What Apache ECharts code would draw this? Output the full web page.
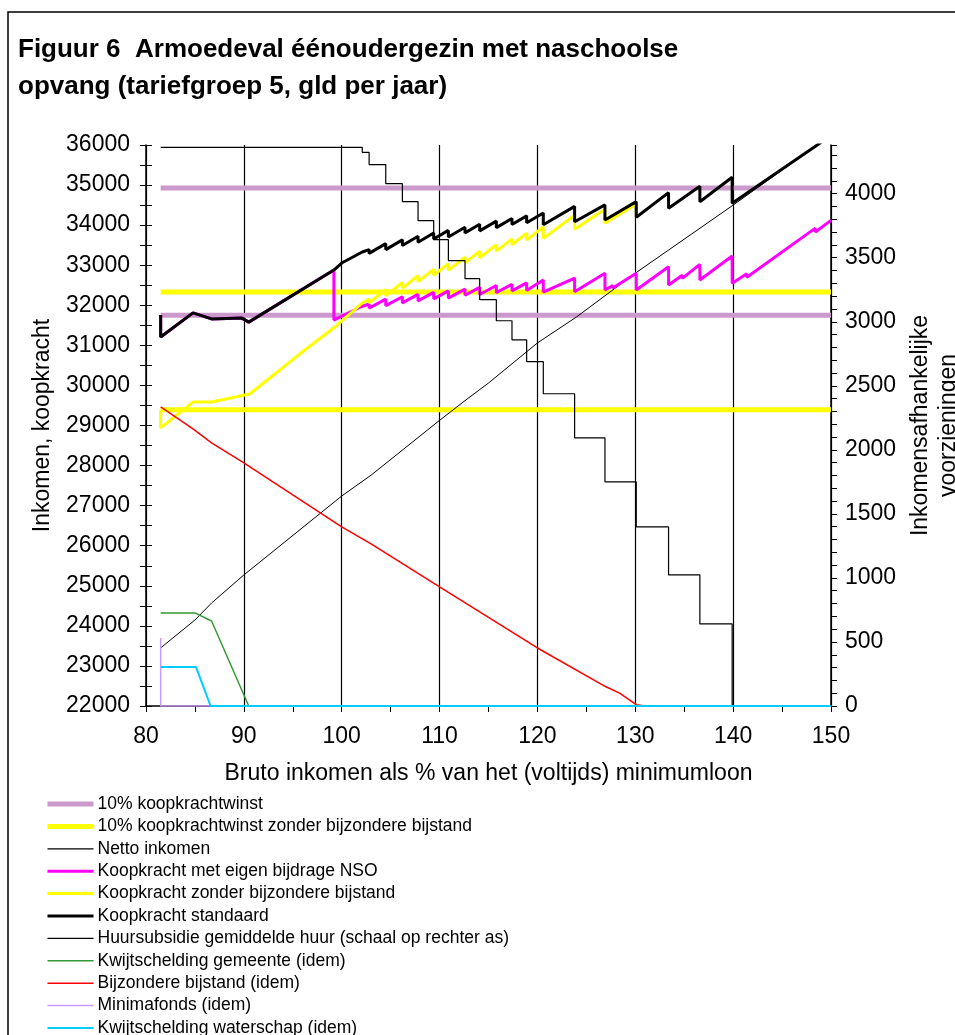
<!DOCTYPE html>
<html>
<head>
<meta charset="utf-8">
<script src="https://cdn.jsdelivr.net/npm/echarts@6/dist/echarts.min.js"></script>
<style>
  html, body { margin: 0; padding: 0; background: #fff; }
  #chart { width: 955px; height: 1035px; }
</style>
</head>
<body>
<div id="chart"></div>
<script>
// values: x = bruto inkomen (% minimumloon)
const winst10 = [[81.5, 34925], [150, 34925], [150, '-'], [81.5, 31750], [150, 31750]]
const winst10Zonder = [[81.5, 32330], [150, 32330], [150, '-'], [81.5, 29390], [150, 29390]]

const netto = [[81.5, 23450], [85, 24145], [86.7, 24570], [90, 25270], [100, 27240], [103, 27760],
  [109.8, 29090], [112.7, 29640], [115, 30060], [120, 31060], [124, 31710], [130, 32800],
  [140, 34500], [148.6, 36000], [150, 36245]]

const koopNSO = [[81.5, 31760], [81.5, 31210], [84.8, 31810], [86.7, 31660], [89.8, 31680], [90.5, 31580],
  [99.2, 32880], [99.2, 31632], [101.9, 31957], [102.1, 31983], [102.1, 31940], [102.8, 32032], [102.8, 31930],
  [104.5, 32154], [104.5, 31990], [106.2, 32214], [106.2, 32060], [107.8, 32271], [107.8, 32110],
  [109.4, 32321], [109.4, 32160], [110.9, 32358], [110.9, 32180], [112.6, 32404], [112.6, 32250],
  [114.1, 32448], [114.1, 32270], [115.8, 32494], [115.8, 32315], [117.4, 32526], [117.4, 32360],
  [118.9, 32558], [118.9, 32370], [120.6, 32630], [120.6, 32330], [123.8, 32680], [123.8, 32340],
  [126.9, 32800], [126.9, 32380], [127.7, 32490], [127.7, 32430], [130.1, 32800], [130.1, 32380],
  [133.4, 32963], [133.4, 32506], [134.8, 32750], [134.8, 32670], [136.6, 33020], [136.6, 32630],
  [139.9, 33229], [139.9, 32547], [141.4, 32787], [141.4, 32700], [148.4, 33925], [148.4, 33830], [150, 34118]]

const koopZonder = [[81.5, 29390], [81.5, 28940], [84.8, 29585], [86.7, 29585], [90.6, 29785], [95.7, 30783],
  [99.3, 31457], [102.1, 32060], [102.1, 32020], [102.8, 32155], [102.8, 32060], [104.5, 32388], [104.5, 32240],
  [106.2, 32568], [106.2, 32430], [107.8, 32739], [107.8, 32590], [109.4, 32899], [109.4, 32750],
  [110.9, 33040], [110.9, 32875], [112.6, 33203], [112.6, 33060], [114.1, 33350], [114.1, 33185],
  [115.8, 33513], [115.8, 33350], [117.4, 33659], [117.4, 33510], [118.9, 33800], [118.9, 33630],
  [120.6, 33958], [120.6, 33670], [123.8, 34246], [123.8, 33900], [126.9, 34396], [126.9, 34050],
  [130.1, 34530], [130.1, 34197]]

const koopStandaard = [[81.5, 31760], [81.5, 31210], [84.8, 31810], [86.7, 31660], [89.8, 31680], [90.5, 31580],
  [99.2, 32880], [100, 33055], [102.1, 33330], [102.1, 33290], [102.8, 33390], [102.8, 33295],
  [104.5, 33538], [104.5, 33390], [106.2, 33633], [106.2, 33493], [107.8, 33722], [107.8, 33573],
  [109.4, 33802], [109.4, 33654], [110.9, 33869], [110.9, 33705], [112.6, 33948], [112.6, 33807],
  [114.1, 34022], [114.1, 33858], [115.8, 34101], [115.8, 33937], [117.4, 34166], [117.4, 34017],
  [118.9, 34232], [118.9, 34061], [120.6, 34304], [120.6, 34010], [123.8, 34468], [123.8, 34085],
  [126.9, 34505], [126.9, 34128], [130.1, 34586], [130.1, 34197], [133.4, 34811], [133.4, 34423],
  [136.6, 34970], [136.6, 34585], [139.9, 35195], [139.9, 34547], [148.6, 36000], [150, 36245]]

// right axis (inkomensafhankelijke voorzieningen)
const huursubsidie = [[81.5, 4362], [102.1, 4323], [102.8, 4227], [104.5, 4078], [106.2, 3938], [107.8, 3789],
  [109.4, 3641], [110.9, 3477], [112.6, 3336], [114.1, 3172], [115.8, 3008], [117.4, 2859], [118.9, 2688],
  [120.6, 2438], [123.8, 2094], [126.9, 1750], [130.1, 1398], [133.4, 1023], [136.6, 641], [139.9, 0], [150, 0]]
const kwijtGemeente = [[81.5, 727], [85, 727], [86.7, 664], [90.5, 0], [150, 0]]
const bijzBijstand = [[81.5, 2336], [84.8, 2164], [86.7, 2055], [90, 1898], [100, 1398], [103, 1266],
  [110, 930], [120, 453], [127, 150], [128.4, 100], [130.1, 10], [131, 0], [150, 0]]
const minimafonds = [[81.5, 530], [81.5, 0], [150, 0]]
const kwijtWaterschap = [[81.5, 305], [85.1, 305], [86.6, 0], [150, 0]]

const FONT = 'Arial, "Liberation Sans", sans-serif'
const AXIS_FONT = 23

// name, data, colour, line width, y axis
const seriesDefs = [
  ['10% koopkrachtwinst', winst10, '#CC99CC', 5, 0],
  ['10% koopkrachtwinst zonder bijzondere bijstand', winst10Zonder, '#FFFF00', 5, 0],
  ['Netto inkomen', netto, '#000000', 1, 0],
  ['Koopkracht met eigen bijdrage NSO', koopNSO, '#FF00FF', 3, 0],
  ['Koopkracht zonder bijzondere bijstand', koopZonder, '#FFFF00', 3, 0],
  ['Koopkracht standaard', koopStandaard, '#000000', 3, 0],
  ['Huursubsidie gemiddelde huur (schaal op rechter as)', huursubsidie, '#000000', 1.2, 1],
  ['Kwijtschelding gemeente (idem)', kwijtGemeente, '#339933', 1.5, 1],
  ['Bijzondere bijstand (idem)', bijzBijstand, '#FF0000', 1.5, 1],
  ['Minimafonds (idem)', minimafonds, '#CC99FF', 1.5, 1],
  ['Kwijtschelding waterschap (idem)', kwijtWaterschap, '#00CCFF', 2, 1],
]

const series = seriesDefs.map(([name, data, color, width, axis]) => ({
  name,
  type: 'line',
  data,
  yAxisIndex: axis,
  symbol: 'none',
  connectNulls: false,
  step: data === huursubsidie ? 'end' : false,
  lineStyle: { color, width },
  itemStyle: { color },
}))

const legendData = seriesDefs.map(([name, , color, width]) => ({
  name,
  lineStyle: { color, width: Math.max(width, 1.2) },
}))

const chart = echarts.init(document.getElementById('chart'))
chart.setOption({
  animation: false,
  backgroundColor: '#fff',
  title: {
    text: 'Figuur 6  Armoedeval éénoudergezin met naschoolse\nopvang (tariefgroep 5, gld per jaar)',
    left: 18,
    top: 31,
    padding: 0,
    textStyle: { fontFamily: FONT, fontSize: 26, fontWeight: 'bold', color: '#000', lineHeight: 37 },
  },
  graphic: [{
    type: 'rect',
    shape: { x: 8, y: 12, width: 1000, height: 1100 },
    style: { fill: 'none', stroke: '#000', lineWidth: 1.5 },
    silent: true,
  }],
  legend: {
    orient: 'vertical',
    left: 45,
    top: 795,
    height: 400,
    padding: 0,
    itemWidth: 46,
    itemHeight: 14,
    itemGap: 4.4,
    itemStyle: { opacity: 0 },
    data: legendData,
    textStyle: { fontFamily: FONT, fontSize: 17.5, color: '#000', lineHeight: 18, padding: [0, 0, 0, -1] },
  },
  grid: { left: 146, right: 124, top: 145, bottom: 329, containLabel: false, outerBoundsMode: 'none' },
  xAxis: {
    type: 'value',
    min: 80,
    max: 150,
    interval: 10,
    name: 'Bruto inkomen als % van het (voltijds) minimumloon',
    nameLocation: 'middle',
    nameGap: 56,
    nameTextStyle: { fontFamily: FONT, fontSize: AXIS_FONT, color: '#000' },
    axisLine: { lineStyle: { color: '#000', width: 1.5 } },
    axisTick: { length: 6, lineStyle: { color: '#000' } },
    minorTick: { show: true, splitNumber: 2, length: 6, lineStyle: { color: '#000' } },
    axisLabel: { fontFamily: FONT, fontSize: AXIS_FONT, color: '#000', margin: 19 },
    splitLine: { show: true, lineStyle: { color: '#000', width: 1.2 } },
  },
  yAxis: [{
    type: 'value',
    position: 'left',
    min: 22000,
    max: 36000,
    interval: 1000,
    name: 'Inkomen, koopkracht',
    nameLocation: 'middle',
    nameGap: 92,
    nameTextStyle: { fontFamily: FONT, fontSize: AXIS_FONT, color: '#000' },
    axisLine: { show: true, lineStyle: { color: '#000', width: 1.5 } },
    axisTick: { show: true, length: 6, lineStyle: { color: '#000' } },
    minorTick: { show: true, splitNumber: 2, length: 6, lineStyle: { color: '#000' } },
    axisLabel: { fontFamily: FONT, fontSize: AXIS_FONT, color: '#000', margin: 16, formatter: (v) => String(v) },
    splitLine: { show: false },
  }, {
    type: 'value',
    position: 'right',
    min: 0,
    max: 4380,
    interval: 500,
    name: 'Inkomensafhankelijke\nvoorzieningen',
    nameLocation: 'middle',
    nameRotate: 90,
    nameGap: 76,
    nameTextStyle: { fontFamily: FONT, fontSize: AXIS_FONT, color: '#000', lineHeight: 28 },
    axisLine: { show: true, lineStyle: { color: '#000', width: 1.5 } },
    axisTick: { show: true, length: 6, lineStyle: { color: '#000' } },
    minorTick: { show: true, splitNumber: 5, length: 6, lineStyle: { color: '#000' } },
    axisLabel: {
      fontFamily: FONT, fontSize: AXIS_FONT, color: '#000', margin: 14,
      formatter: (v) => (v % 500 === 0 ? String(v) : ''),
    },
    splitLine: { show: false },
  }, {
    // inner half of the crossing ticks on the left axis
    type: 'value',
    position: 'left',
    min: 22000,
    max: 36000,
    interval: 1000,
    axisLine: { show: false },
    axisTick: { show: true, inside: true, length: 6, lineStyle: { color: '#000' } },
    minorTick: { show: true, splitNumber: 2, length: 6, lineStyle: { color: '#000' } },
    axisLabel: { show: false },
    splitLine: { show: false },
  }],
  series,
})
</script>
</body>
</html>
